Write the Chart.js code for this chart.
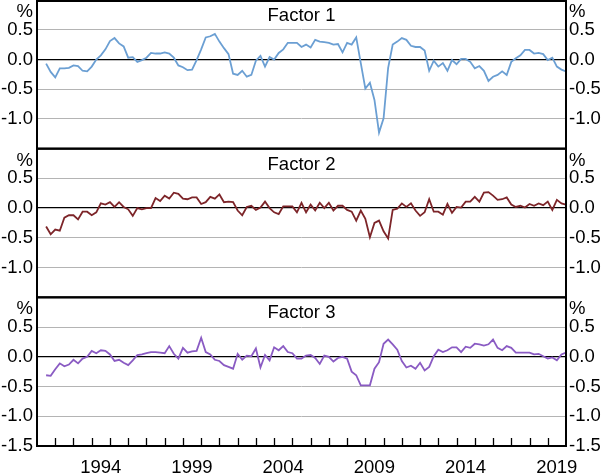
<!DOCTYPE html>
<html><head><meta charset="utf-8">
<script src="https://cdn.jsdelivr.net/npm/chart.js@4/dist/chart.umd.min.js"></script>
<style>html,body{margin:0;padding:0;background:#fff;}#wrap{width:603px;height:473px;position:relative;}</style>
</head><body><div id="wrap"><canvas id="c" width="603" height="473"></canvas></div>
<script>
// ---- data (quarterly, first observation 1991 Q2, plotted at quarter end) ----
const firstYear = 1991;
const firstQuarter = 2;
const factor1 = [-0.07,-0.21,-0.30,-0.15,-0.15,-0.14,-0.10,-0.11,-0.19,-0.20,
  -0.12,0.00,0.07,0.17,0.31,0.36,0.27,0.22,0.03,0.04,
  -0.04,-0.01,0.03,0.11,0.10,0.10,0.12,0.10,0.03,-0.10,
  -0.13,-0.18,-0.17,-0.01,0.17,0.37,0.39,0.43,0.30,0.19,
  0.09,-0.24,-0.26,-0.19,-0.29,-0.26,-0.02,0.06,-0.12,0.04,
  0.00,0.11,0.17,0.28,0.28,0.28,0.21,0.25,0.20,0.33,
  0.30,0.29,0.28,0.25,0.26,0.12,0.28,0.25,0.37,-0.06,
  -0.49,-0.39,-0.68,-1.23,-0.99,-0.14,0.25,0.30,0.36,0.33,
  0.23,0.21,0.21,0.15,-0.19,-0.02,-0.12,-0.06,-0.19,-0.01,
  -0.08,0.01,0.01,-0.04,-0.15,-0.11,-0.19,-0.36,-0.29,-0.26,
  -0.20,-0.26,-0.04,0.02,0.07,0.16,0.16,0.10,0.11,0.09,
  -0.01,0.03,-0.12,-0.17,-0.20];
const factor2 = [-0.31,-0.44,-0.36,-0.38,-0.16,-0.12,-0.12,-0.19,-0.06,-0.06,
  -0.12,-0.07,0.08,0.06,0.10,0.02,0.10,0.02,-0.02,-0.13,
  0.00,-0.02,0.00,0.00,0.17,0.12,0.21,0.16,0.26,0.24,
  0.16,0.15,0.18,0.18,0.07,0.10,0.19,0.16,0.23,0.10,
  0.11,0.10,-0.04,-0.12,0.02,0.04,-0.03,0.01,0.11,0.00,
  -0.07,-0.10,0.03,0.03,0.03,-0.07,0.09,-0.07,0.06,-0.04,
  0.09,0.00,0.09,-0.04,0.04,0.04,-0.03,-0.06,-0.21,-0.04,
  -0.18,-0.49,-0.25,-0.21,-0.39,-0.51,-0.03,-0.01,0.08,0.02,
  0.08,-0.04,-0.13,-0.07,0.15,-0.06,-0.06,-0.11,0.07,-0.08,
  0.02,0.01,0.11,0.11,0.19,0.11,0.26,0.27,0.21,0.14,
  0.15,0.18,0.06,0.02,0.04,0.01,0.07,0.04,0.08,0.05,
  0.11,-0.03,0.14,0.08,0.06];
const factor3 = [-0.31,-0.32,-0.21,-0.11,-0.16,-0.13,-0.05,-0.11,-0.03,0.00,
  0.10,0.06,0.11,0.10,0.04,-0.07,-0.05,-0.10,-0.14,-0.06,
  0.03,0.04,0.06,0.08,0.08,0.07,0.06,0.18,0.05,-0.03,
  0.15,0.07,0.09,0.10,0.32,0.08,0.04,-0.05,-0.07,-0.14,
  -0.17,-0.20,0.05,-0.05,0.02,0.01,0.14,-0.18,0.03,-0.06,
  0.16,0.11,0.18,0.08,0.06,-0.03,-0.03,0.02,0.03,-0.02,
  -0.12,0.02,0.00,-0.08,-0.02,0.00,-0.03,-0.25,-0.31,-0.48,
  -0.48,-0.48,-0.20,-0.09,0.22,0.29,0.21,0.12,-0.07,-0.18,
  -0.15,-0.20,-0.10,-0.23,-0.17,0.01,0.12,0.08,0.11,0.16,
  0.16,0.08,0.17,0.15,0.22,0.21,0.19,0.21,0.29,0.15,
  0.11,0.18,0.15,0.07,0.07,0.07,0.07,0.04,0.05,0.01,
  -0.03,-0.01,-0.06,0.04,0.07];
const panelTitles = ['Factor 1', 'Factor 2', 'Factor 3'];
const seriesColors = ['#6b9fd3', '#7d2529', '#8a5bc3'];
const yTicks = [0.5, 0, -0.5, -1.0];
const yTicksBottom = [0.5, 0, -0.5, -1.0, -1.5];
const yMin = -1.5, yMax = 1.0;
const xMin = 1991, xMax = 2020;
const xLabelYears = [1994, 1999, 2004, 2009, 2014, 2019];
const unitLabel = '%';

// quarter categories
const quarters = factor1.map((_, i) => {
  const q = firstQuarter - 1 + i;
  return { year: firstYear + Math.floor(q / 4), q: (q % 4) + 1 };
});
const quarterX = quarters.map(d => d.year + d.q / 4); // end of quarter

const FONT = 'Liberation Sans, Arial, Helvetica, sans-serif';
const series = [factor1, factor2, factor3];

const datasets = series.map((vals, i) => ({
  label: panelTitles[i],
  data: vals.map((v, j) => ({ x: quarterX[j], y: v })),
  yAxisID: 'y' + i,
  borderColor: seriesColors[i],
  borderWidth: 1.8,
  pointRadius: 0,
  tension: 0,
  fill: false
}));

function yAxis(i, pos) {
  const bottom = i === 2;
  return {
    type: 'linear',
    position: pos,
    stack: pos,
    stackWeight: 1,
    weight: pos === 'left' ? 3 - i : i + 1,
    min: yMin, max: yMax,
    afterBuildTicks: s => { s.ticks = (bottom ? yTicksBottom : yTicks).map(v => ({ value: v })); },
    afterFit: s => { s.width = 37; s.paddingTop = 0; s.paddingBottom = 0; },
    ticks: {
      autoSkip: false,
      color: '#000',
      font: { family: FONT, size: 18.5 },
      padding: pos === 'left' ? 4 : 3,
      callback: v => v.toFixed(1)
    },
    grid: {
      display: pos === 'left',
      drawTicks: false,
      color: ctx => (ctx.tick && ctx.tick.value === 0) ? '#000' : '#b4b4b4',
      lineWidth: ctx => (ctx.tick && ctx.tick.value === 0) ? 1.3 : 1
    },
    border: { display: false }
  };
}

const scales = {
  x: {
    type: 'linear',
    position: 'bottom',
    min: xMin, max: xMax,
    afterFit: s => { s.height = 27; s.paddingLeft = 0; s.paddingRight = 0; },
    ticks: {
      stepSize: 1,
      autoSkip: false,
      maxRotation: 0,
      minRotation: 0,
      labelOffset: 9,
      padding: 11,
      color: '#000',
      font: { family: FONT, size: 18.5 },
      callback: v => xLabelYears.includes(v) ? String(v) : ''
    },
    grid: { display: false, drawTicks: false },
    border: { display: false }
  }
};
for (let i = 0; i < 3; i++) {
  scales['y' + i] = yAxis(i, 'left');
  scales['r' + i] = yAxis(i, 'right');
}

const panelPlugin = {
  id: 'panels',
  afterDraw(chart) {
    const ctx = chart.ctx;
    const ca = chart.chartArea;
    ctx.save();
    // x tick marks inside the bottom panel, at year boundaries
    const xs = chart.scales.x;
    const bottomPanel = chart.scales.y2;
    ctx.strokeStyle = '#000';
    ctx.lineWidth = 1.3;
    xs.ticks.forEach(t => {
      if (t.value <= xMin || t.value >= xMax) return;
      const px = Math.round(xs.getPixelForValue(t.value)) + 0.5;
      ctx.beginPath();
      ctx.moveTo(px, bottomPanel.bottom);
      ctx.lineTo(px, bottomPanel.bottom - 8);
      ctx.stroke();
    });
    for (let i = 0; i < 3; i++) {
      const s = chart.scales['y' + i];
      ctx.strokeStyle = '#000';
      ctx.lineWidth = 2;
      ctx.strokeRect(ca.left, s.top + (i === 0 ? 1 : 0), ca.right - ca.left, s.bottom - s.top - (i === 0 ? 1 : 0));
      ctx.fillStyle = '#000';
      ctx.font = '18.5px ' + FONT;
      ctx.textBaseline = 'alphabetic';
      ctx.textAlign = 'center';
      ctx.fillText(panelTitles[i], (ca.left + ca.right) / 2, s.top + 21);
      ctx.textAlign = 'right';
      ctx.fillText(unitLabel, ca.left - 4, s.top + 17);
      ctx.textAlign = 'left';
      ctx.fillText(unitLabel, ca.right + 3, s.top + 17);
    }
    ctx.restore();
  }
};

new Chart(document.getElementById('c'), {
  type: 'line',
  data: { datasets },
  options: {
    responsive: false,
    animation: false,
    devicePixelRatio: 1,
    layout: { padding: 0 },
    plugins: { legend: { display: false }, tooltip: { enabled: false }, title: { display: false } },
    scales
  },
  plugins: [panelPlugin]
});
</script>
</body></html>
